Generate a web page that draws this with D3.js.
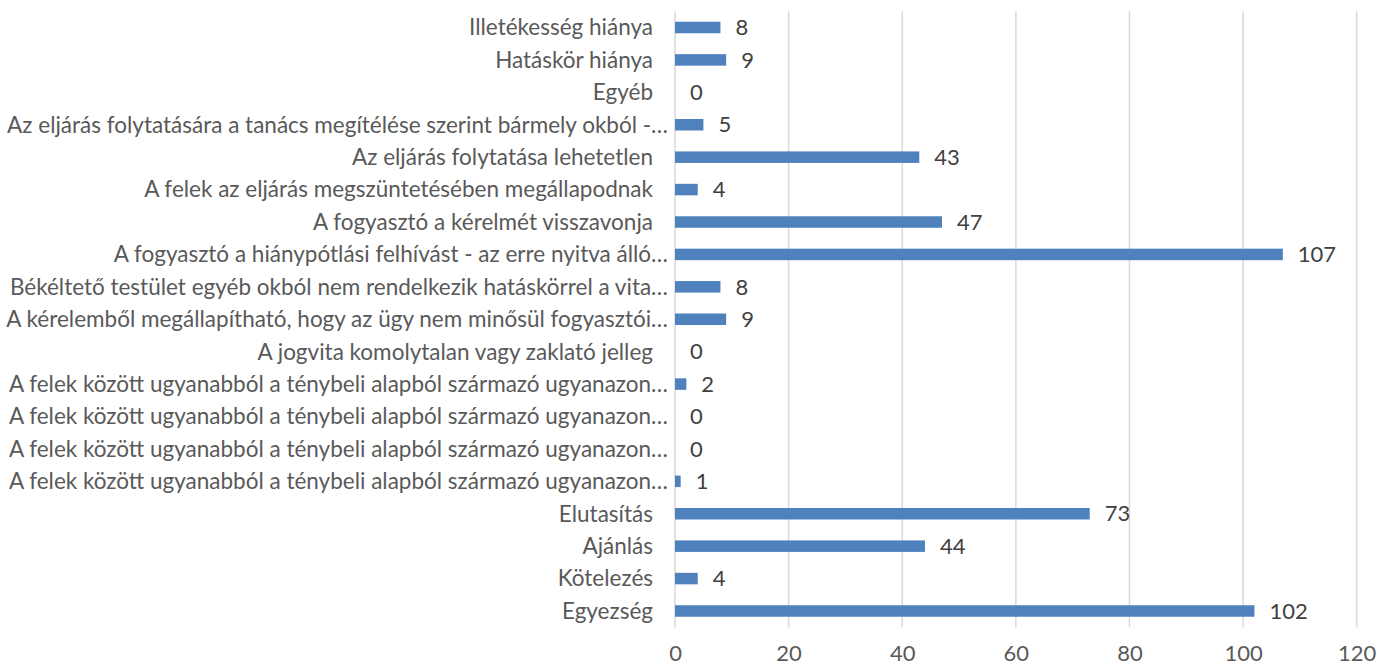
<!DOCTYPE html>
<html lang='hu'>
<head>
<meta charset='utf-8'>
<title>Megszüntetés okai</title>
<script src='https://cdn.jsdelivr.net/npm/d3@7'></script>
<style>
  body { margin: 0; background: #fff; }
  text { font-family: Lato, 'Open Sans', sans-serif; }
</style>
</head>
<body>
<script>
// categories top to bottom
var categories = [
  'Illetékesség hiánya',
  'Hatáskör hiánya',
  'Egyéb',
  'Az eljárás folytatására a tanács megítélése szerint bármely okból -…',
  'Az eljárás folytatása lehetetlen',
  'A felek az eljárás megszüntetésében megállapodnak',
  'A fogyasztó a kérelmét visszavonja',
  'A fogyasztó a hiánypótlási felhívást - az erre nyitva álló…',
  'Békéltető testület egyéb okból nem rendelkezik hatáskörrel a vita…',
  'A kérelemből megállapítható, hogy az ügy nem minősül fogyasztói…',
  'A jogvita komolytalan vagy zaklató jelleg',
  'A felek között ugyanabból a ténybeli alapból származó ugyanazon…',
  'A felek között ugyanabból a ténybeli alapból származó ugyanazon…',
  'A felek között ugyanabból a ténybeli alapból származó ugyanazon…',
  'A felek között ugyanabból a ténybeli alapból származó ugyanazon…',
  'Elutasítás',
  'Ajánlás',
  'Kötelezés',
  'Egyezség'
];
var values = [8, 9, 0, 5, 43, 4, 47, 107, 8, 9, 0, 2, 0, 0, 1, 73, 44, 4, 102];
var xTicks = [0, 20, 40, 60, 80, 100, 120];

function plot_it() {
  var width = 1377, height = 666;
  var plotLeft = 675, plotRight = 1356.7, plotTop = 11.3, plotBottom = 627.2;
  var labelSize = 22.5, numSize = 22;

  var data = categories.map(function(c, i) { return {key: i, label: c, value: values[i]}; });

  var svg = d3.select('body').append('svg').attr('width', width).attr('height', height);

  var x = d3.scaleLinear().domain([0, 120]).range([plotLeft, plotRight]);
  var y = d3.scaleBand().domain(data.map(d => d.key)).range([plotTop, plotBottom])
    .paddingInner(0.645).paddingOuter(0.3225);

  // gridlines
  svg.append('g').selectAll('line').data(xTicks).enter().append('line')
    .attr('x1', d => x(d)).attr('x2', d => x(d))
    .attr('y1', plotTop).attr('y2', plotBottom)
    .attr('stroke', '#d9d9d9').attr('stroke-width', 1.5);

  // bottom axis, labels only
  var xAxis = svg.append('g').attr('transform', 'translate(0,' + plotBottom + ')')
    .call(d3.axisBottom(x).tickValues(xTicks).tickSize(0).tickPadding(18));
  xAxis.select('.domain').remove();
  xAxis.selectAll('text').attr('font-size', numSize).attr('fill', '#595959')
    .style('font-family', 'Lato, sans-serif');

  // bars
  svg.append('g').selectAll('rect').data(data).enter().append('rect')
    .attr('x', x(0))
    .attr('y', d => y(d.key))
    .attr('width', d => x(d.value) - x(0))
    .attr('height', y.bandwidth())
    .attr('fill', '#4f81bd');

  // category labels (truncated ones overhang to the right like in Excel)
  svg.append('g').selectAll('text').data(data).enter().append('text')
    .attr('x', d => d.label.slice(-1) == '…' ? 668 : 653)
    .attr('y', d => y(d.key) + y.bandwidth() / 2)
    .attr('dy', '0.35em')
    .attr('text-anchor', 'end')
    .attr('font-size', labelSize)
    .attr('fill', '#595959')
    .text(d => d.label);

  // value labels
  svg.append('g').selectAll('text').data(data).enter().append('text')
    .attr('x', d => x(d.value) + 15)
    .attr('y', d => y(d.key) + y.bandwidth() / 2)
    .attr('dy', '0.35em')
    .attr('font-size', numSize)
    .attr('fill', '#404040')
    .text(d => d.value);
}
plot_it();
</script>
</body>
</html>
